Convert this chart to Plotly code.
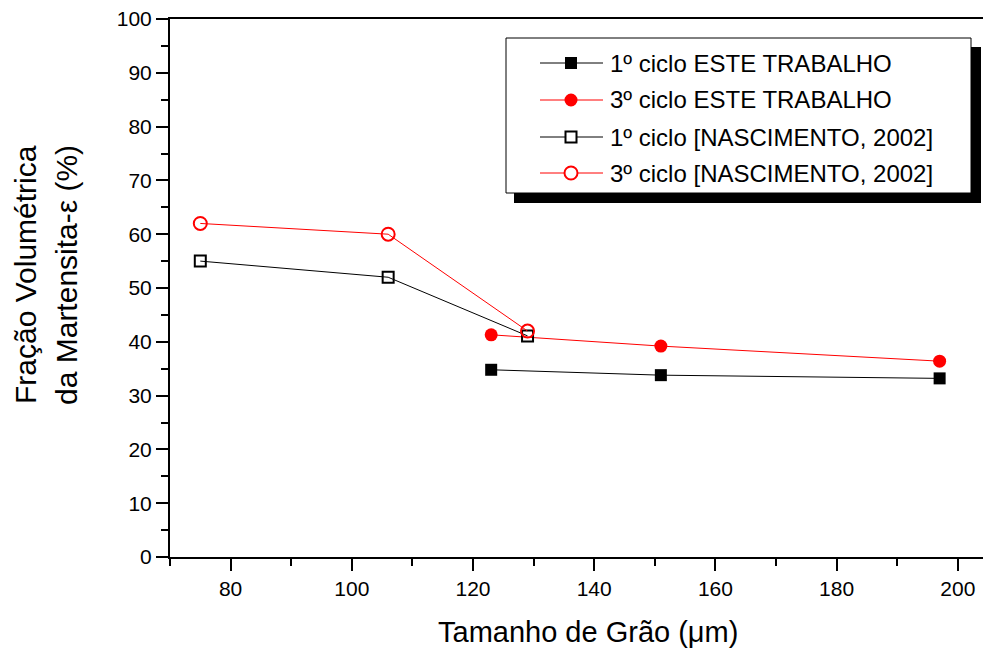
import plotly.graph_objects as go

# Grain size (µm) and ε-martensite volume fraction (%)
x_este = [123, 151, 197]
y_ciclo1_este = [34.8, 33.8, 33.2]
y_ciclo3_este = [41.3, 39.2, 36.4]

x_nasc = [75, 106, 129]
y_ciclo1_nasc = [55.0, 52.0, 41.1]
y_ciclo3_nasc = [62.0, 60.0, 42.0]

names = [
    "1º ciclo ESTE TRABALHO",
    "3º ciclo ESTE TRABALHO",
    "1º ciclo [NASCIMENTO, 2002]",
    "3º ciclo [NASCIMENTO, 2002]",
]
colors = ["black", "red", "black", "red"]
symbols = ["square", "circle", "square-open", "circle-open"]

W, H = 983, 649
ML, MR, MT, MB = 170, 0, 19, 92
FONT = "Arial"

fig = go.Figure()
series = [
    (x_este, y_ciclo1_este, 12),
    (x_este, y_ciclo3_este, 13),
    (x_nasc, y_ciclo1_nasc, 11),
    (x_nasc, y_ciclo3_nasc, 13),
]
for (xs, ys, msize), name, col, sym in zip(series, names, colors, symbols):
    marker = dict(symbol=sym, size=msize, color=col)
    if sym.endswith("open"):
        marker["line"] = dict(width=2, color=col)
    fig.add_trace(go.Scatter(
        x=xs, y=ys, name=name, mode="lines+markers", showlegend=False,
        line=dict(color=col, width=1), marker=marker,
    ))


def px_x(px):
    return (px - ML) / (W - ML - MR)


def px_y(py):
    return (H - MB - py) / (H - MT - MB)


def rect_px(x0, y0, x1, y1, **kw):
    fig.add_shape(type="rect", xref="paper", yref="paper", layer="above",
                  x0=px_x(x0), x1=px_x(x1), y0=px_y(y1), y1=px_y(y0), **kw)


# boxed legend with drop shadow
rect_px(514, 47, 981, 203, fillcolor="black", line=dict(width=0))
rect_px(506, 38, 971, 193, fillcolor="white", line=dict(color="black", width=1))

row_y = [63, 100, 137, 173]
for yy, name, col, sym in zip(row_y, names, colors, symbols):
    fig.add_shape(type="line", xref="paper", yref="paper", layer="above",
                  x0=px_x(540), x1=px_x(603), y0=px_y(yy), y1=px_y(yy),
                  line=dict(color=col, width=1))
    filled = not sym.endswith("open")
    half = 6 if sym.startswith("square") else 6.5
    if sym.startswith("square") and not filled:
        half = 5.5
    shape_type = "rect" if sym.startswith("square") else "circle"
    fig.add_shape(type=shape_type, xref="paper", yref="paper", layer="above",
                  x0=px_x(571 - half), x1=px_x(571 + half),
                  y0=px_y(yy + half), y1=px_y(yy - half),
                  fillcolor=col if filled else "white",
                  line=dict(color=col, width=0 if filled else 2))
    fig.add_annotation(text=name, xref="paper", yref="paper",
                       x=px_x(608), y=px_y(yy), xanchor="left", yanchor="middle",
                       showarrow=False, font=dict(family=FONT, size=24, color="black"))

axis_common = dict(
    showline=True, linecolor="black", linewidth=2,
    ticks="outside", ticklen=12, tickwidth=2, tickcolor="black",
    showgrid=False, zeroline=False,
    tickfont=dict(family=FONT, size=21, color="black"),
)

fig.update_xaxes(
    range=[70, 70 + (W - ML - MR) / 6.06], tick0=80, dtick=20, mirror=True,
    minor=dict(dtick=10, tick0=70, ticks="outside", ticklen=7, tickwidth=2, tickcolor="black"),
    **axis_common,
)
fig.update_yaxes(
    range=[0, 100], tick0=0, dtick=10,
    minor=dict(dtick=5, ticks="outside", ticklen=7, tickwidth=2, tickcolor="black"),
    **axis_common,
)

fig.add_annotation(
    text="Tamanho de Grão (μm)", xref="paper", yref="paper",
    x=px_x(588), y=px_y(632), xanchor="center", yanchor="middle",
    showarrow=False, font=dict(family=FONT, size=29, color="black"),
)
for cx, line in [(25, "Fração Volumétrica"), (66, "da Martensita-ε (%)")]:
    fig.add_annotation(
        text=line, xref="paper", yref="paper",
        x=px_x(cx), y=px_y(275), xanchor="center", yanchor="middle",
        textangle=-90, showarrow=False, font=dict(family=FONT, size=30, color="black"),
    )

fig.update_layout(
    width=W, height=H,
    margin=dict(l=ML, r=MR, t=MT, b=MB),
    paper_bgcolor="white", plot_bgcolor="white",
    showlegend=False,
)

fig.write_html("out.html")
